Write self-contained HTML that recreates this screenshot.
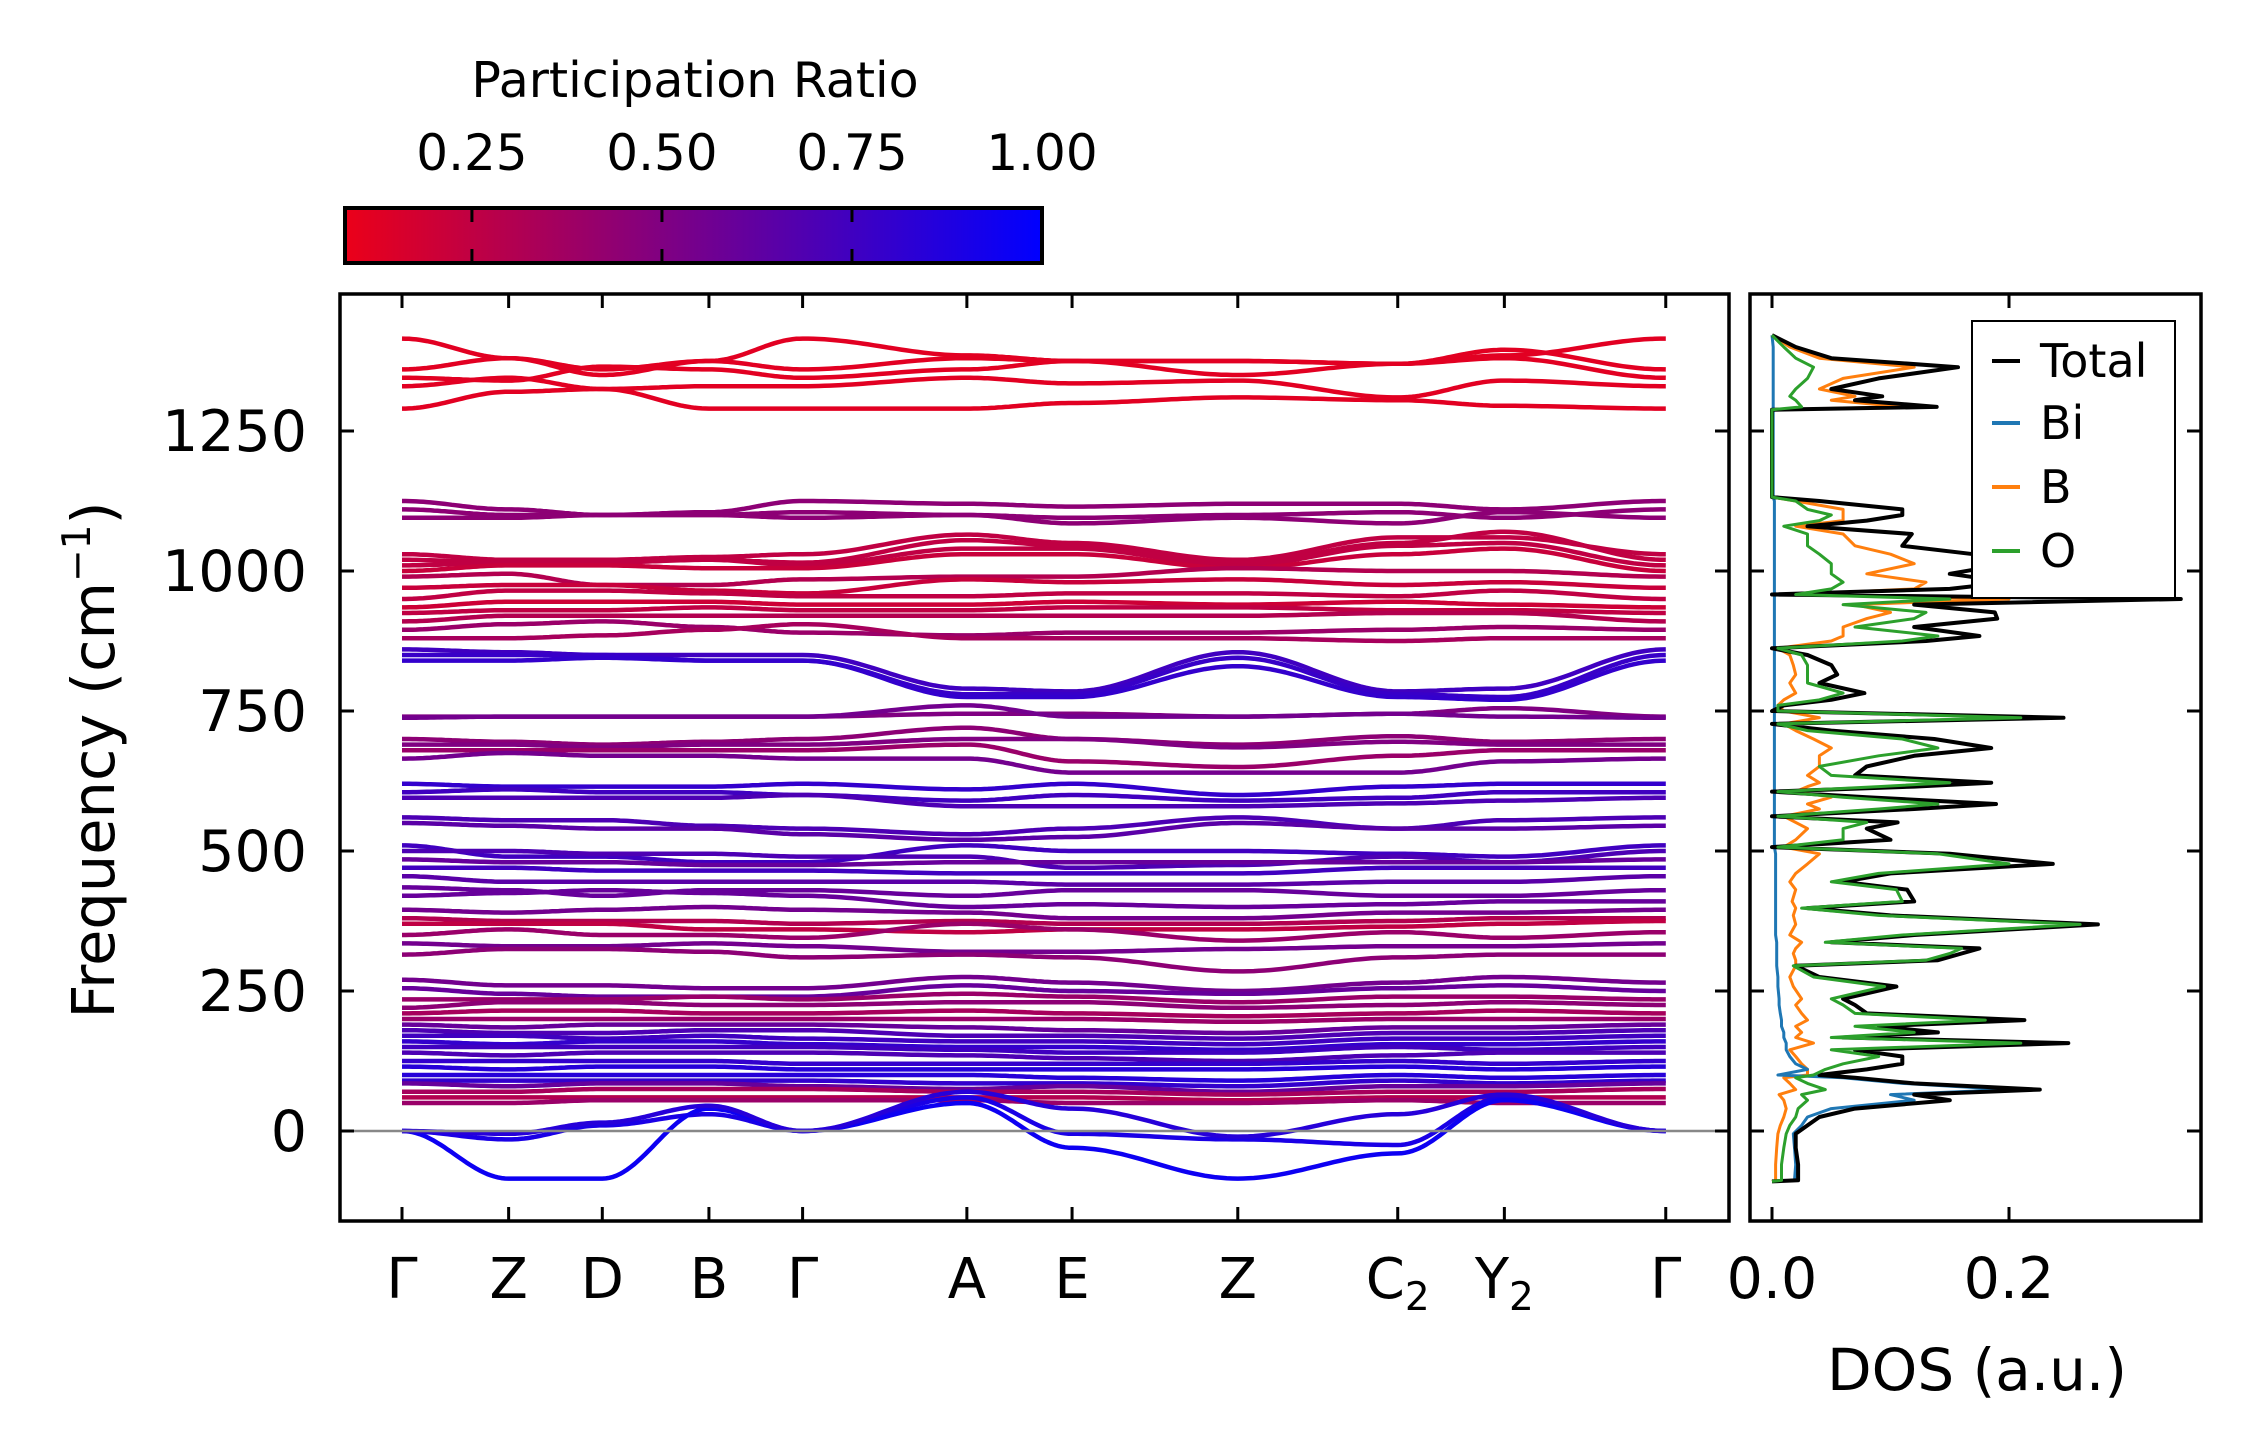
<!DOCTYPE html>
<html><head><meta charset="utf-8"><style>
html,body{margin:0;padding:0;background:#fff;}
svg{display:block;font-family:"DejaVu Sans","Liberation Sans",sans-serif;}
</style></head><body>
<svg id="fig" width="2259" height="1455" viewBox="0 0 2259 1455" xmlns="http://www.w3.org/2000/svg">
<defs>
<linearGradient id="cbgrad" x1="0" x2="1" y1="0" y2="0">
<stop offset="0" stop-color="rgb(235,0,25)"/><stop offset="1" stop-color="rgb(0,0,255)"/>
</linearGradient>
<clipPath id="mainclip"><rect x="340" y="294" width="1389" height="927"/></clipPath>
<clipPath id="dosclip"><rect x="1750" y="294" width="451" height="927"/></clipPath>
</defs>
<g id="colorbar">
<text x="695" y="97" font-size="49" text-anchor="middle">Participation Ratio</text>
<rect x="345" y="208" width="697" height="55" fill="url(#cbgrad)" stroke="#000" stroke-width="4"/>
<g id="cbticks"></g>
</g>
<g id="bands" clip-path="url(#mainclip)"></g>
<line x1="340" x2="1729" y1="1131" y2="1131" stroke="#888" stroke-width="2.5"/>
<rect x="340" y="294" width="1389" height="927" fill="none" stroke="#000" stroke-width="3.5"/>
<g id="mainaxes"></g>
<g id="dos" clip-path="url(#dosclip)"></g>
<rect x="1750" y="294" width="451" height="927" fill="none" stroke="#000" stroke-width="3.5"/>
<g id="dosaxes"></g>
<text transform="translate(114,760) rotate(-90)" font-size="59" text-anchor="middle">Frequency (cm<tspan font-size="39" dy="-24">−1</tspan><tspan dy="24">)</tspan></text>
<text x="1977" y="1390" font-size="58" text-anchor="middle">DOS (a.u.)</text>
<g id="legend">
<rect x="1972" y="321" width="203" height="277" fill="#fff" stroke="#000" stroke-width="2"/>
</g>
</svg>
<script>
const NS="http://www.w3.org/2000/svg";
const kLabels=["Γ","Z","D","B","Γ","A","E","Z","C","Y","Γ"];
const kSubs=["","","","","","","","","2","2",""];
const kDist=[0,0.74,1.39,2.13,2.78,3.92,4.65,5.80,6.91,7.65,8.77];
const yTicks=[0,250,500,750,1000,1250];
const cbTicks=[0.25,0.5,0.75,1.0];
const cbTickLabels=["0.25","0.50","0.75","1.00"];
const dosTicks=[0,0.2];
const dosTickLabels=["0.0","0.2"];
const bandFreqs=[
[1415,1380,1360,1375,1415,1385,1375,1375,1370,1385,1415],
[1360,1380,1350,1375,1360,1380,1375,1350,1370,1395,1360],
[1345,1340,1365,1360,1345,1360,1375,1375,1370,1380,1345],
[1330,1345,1325,1330,1330,1345,1335,1340,1310,1340,1330],
[1290,1320,1325,1290,1290,1290,1300,1310,1305,1295,1290],
[1125,1110,1100,1105,1125,1120,1115,1120,1120,1110,1125],
[1110,1100,1100,1100,1105,1100,1095,1100,1105,1095,1110],
[1095,1095,1100,1100,1095,1100,1085,1095,1085,1105,1095],
[1030,1020,1020,1025,1030,1065,1050,1020,1060,1060,1030],
[1020,1015,1015,1020,1015,1055,1045,1015,1050,1070,1020],
[1010,1015,1020,1020,1010,1040,1040,1010,1045,1050,1010],
[1000,1010,1010,1005,1005,1030,1030,1005,1030,1040,1000],
[990,995,975,975,985,990,990,1005,1000,1000,990],
[970,975,975,965,960,985,980,985,975,980,970],
[950,965,965,960,955,955,960,960,955,965,950],
[935,945,945,945,940,940,945,940,945,940,935],
[925,930,930,935,930,930,935,935,930,930,925],
[910,920,920,920,920,920,920,920,925,925,910],
[895,905,910,900,890,885,890,890,895,900,895],
[880,880,885,895,905,880,880,880,875,880,880],
[860,855,850,850,850,790,785,855,785,790,860],
[850,850,850,840,840,780,780,845,780,775,850],
[840,840,845,840,840,775,775,830,775,770,840],
[740,740,740,740,740,745,745,740,745,755,740],
[738,740,740,740,740,760,740,740,745,740,738],
[700,695,690,695,700,720,700,690,705,695,700],
[690,690,685,690,690,700,700,685,695,690,690],
[680,680,680,680,680,690,660,650,670,680,680],
[665,675,670,670,665,665,640,640,640,660,665],
[620,615,615,615,620,610,620,600,615,620,620],
[605,610,605,605,600,590,600,590,595,605,605],
[595,595,595,595,600,580,580,580,585,590,595],
[560,555,555,545,540,530,540,560,540,555,560],
[550,545,540,540,530,520,525,550,540,540,545],
[510,490,490,480,480,510,500,500,495,490,510],
[500,500,495,495,490,490,470,475,490,480,500],
[485,480,480,475,475,480,480,480,480,480,485],
[470,470,465,465,465,460,460,460,470,470,470],
[455,445,445,445,445,445,440,440,445,445,455],
[435,430,420,430,430,420,430,430,420,420,430],
[420,425,430,425,420,400,405,400,405,410,410],
[395,390,395,400,395,390,380,380,390,390,395],
[380,375,375,375,370,375,370,370,375,380,380],
[370,370,370,360,360,355,360,360,365,370,375],
[350,360,350,350,345,370,360,340,355,345,355],
[335,330,330,335,330,320,320,325,330,330,335],
[315,325,325,320,310,315,310,285,310,315,315],
[270,260,260,255,255,275,265,250,265,275,265],
[255,245,240,240,240,260,250,245,255,260,250],
[235,235,235,240,235,245,240,230,240,240,235],
[220,230,230,225,225,230,230,220,225,230,225],
[210,215,215,210,210,215,210,205,210,215,210],
[200,200,200,200,200,200,200,195,200,200,200],
[190,185,190,190,190,185,180,175,185,185,190],
[180,175,175,180,180,170,170,165,175,175,180],
[170,170,165,170,165,160,160,155,165,165,170],
[160,155,160,160,155,150,150,145,155,155,160],
[150,150,150,150,150,145,140,140,150,145,150],
[140,135,140,140,140,135,130,125,135,140,140],
[125,125,125,125,120,120,120,120,125,120,125],
[115,110,115,115,110,110,110,110,115,110,115],
[100,100,100,100,100,100,95,90,100,95,100],
[90,90,90,90,90,85,85,80,90,85,90],
[85,80,85,85,80,75,80,70,80,80,85],
[70,70,75,75,75,70,70,65,70,70,75],
[60,60,60,60,60,60,60,55,60,60,60],
[50,50,55,55,55,55,50,50,55,50,50],
[0,-15,10,30,0,60,-5,-15,-25,60,0],
[0,-85,-85,40,0,50,-30,-85,-40,55,0],
[0,-5,15,45,0,70,40,-10,30,65,0]
];
const bandPR=[0.12,0.12,0.12,0.12,0.12,0.45,0.45,0.45,0.25,0.25,0.25,0.22,0.3,0.22,0.25,0.2,0.25,0.3,0.4,0.35,
0.75,0.78,0.8,0.5,0.55,0.45,0.5,0.4,0.55,0.8,0.75,0.7,0.7,0.65,0.75,0.7,0.6,0.75,0.65,0.6,0.6,0.55,0.3,0.25,0.4,0.55,0.45,
0.55,0.6,0.4,0.45,0.35,0.4,0.6,0.7,0.75,0.8,0.75,0.7,0.8,0.85,0.85,0.8,0.6,0.35,0.3,0.4,0.9,0.95,0.85];
const dosFreq=[-90,-88,-60,-30,-5,10,25,40,55,65,74,85,95,100,110,120,133,145,157,167,176,187,198,210,225,236,258,275,295,305,317,326,337,350,369,385,398,410,431,445,460,477,495,507,520,540,551,562,575,584,596,606,615,622,635,651,670,684,700,715,727,738,750,760,770,782,800,815,832,850,862,875,884,900,915,926,940,950,958,968,980,995,1013,1030,1045,1066,1080,1090,1100,1110,1125,1132,1288,1293,1305,1312,1325,1344,1364,1380,1400,1421];
const dosTotal=[0,0.022,0.022,0.02,0.02,0.03,0.04,0.07,0.15,0.12,0.226,0.12,0.07,0.04,0.08,0.11,0.11,0.07,0.25,0.06,0.14,0.09,0.213,0.08,0.07,0.06,0.105,0.04,0.02,0.14,0.16,0.175,0.05,0.12,0.275,0.1,0.03,0.12,0.114,0.06,0.1,0.237,0.15,0.0,0.1,0.08,0.106,0.0,0.12,0.189,0.08,0.0,0.12,0.185,0.07,0.08,0.12,0.185,0.137,0.05,0.0,0.246,0.0,0.01,0.05,0.078,0.04,0.055,0.05,0.03,0.0,0.13,0.175,0.12,0.19,0.188,0.12,0.345,0.0,0.15,0.2,0.15,0.2,0.17,0.11,0.118,0.03,0.08,0.11,0.11,0.04,0,0,0.139,0.07,0.093,0.05,0.09,0.157,0.05,0.02,0];
const dosO=[0,0.008,0.008,0.01,0.012,0.015,0.02,0.022,0.03,0.025,0.045,0.03,0.02,0.035,0.045,0.06,0.09,0.05,0.21,0.05,0.12,0.07,0.18,0.07,0.06,0.05,0.095,0.035,0.018,0.13,0.15,0.16,0.045,0.11,0.26,0.09,0.025,0.11,0.105,0.05,0.09,0.2,0.14,0.005,0.06,0.06,0.08,0.005,0.09,0.14,0.06,0.005,0.09,0.15,0.05,0.04,0.09,0.14,0.11,0.03,0.005,0.21,0.005,0.005,0.04,0.06,0.03,0.03,0.03,0.025,0.005,0.11,0.14,0.07,0.12,0.13,0.06,0.15,0.02,0.05,0.06,0.05,0.05,0.04,0.03,0.03,0.01,0.04,0.05,0.03,0.02,0,0,0.025,0.02,0.015,0.02,0.03,0.035,0.02,0.01,0];
const dosB=[0,0.003,0.003,0.004,0.005,0.007,0.01,0.012,0.01,0.006,0.02,0.015,0.01,0.03,0.03,0.025,0.02,0.015,0.035,0.02,0.025,0.02,0.03,0.025,0.02,0.025,0.018,0.015,0.02,0.02,0.018,0.02,0.025,0.015,0.02,0.018,0.02,0.017,0.02,0.015,0.02,0.03,0.04,0.01,0.02,0.03,0.02,0.01,0.04,0.03,0.05,0.02,0.03,0.04,0.03,0.04,0.04,0.05,0.035,0.02,0.01,0.04,0.01,0.005,0.01,0.02,0.015,0.02,0.018,0.015,0.005,0.05,0.06,0.06,0.08,0.1,0.07,0.2,0.02,0.12,0.13,0.08,0.12,0.1,0.07,0.06,0.02,0.06,0.06,0.06,0.02,0,0,0.11,0.05,0.07,0.04,0.06,0.12,0.04,0.015,0];
const dosBi=[0,0.019,0.02,0.019,0.018,0.025,0.03,0.05,0.12,0.1,0.2,0.11,0.06,0.005,0.03,0.02,0.015,0.012,0.012,0.01,0.01,0.008,0.008,0.007,0.006,0.006,0.005,0.005,0.004,0.004,0.004,0.004,0.004,0.003,0.003,0.003,0.003,0.003,0.003,0.003,0.003,0.003,0.003,0.002,0.002,0.002,0.002,0.002,0.002,0.002,0.002,0.002,0.002,0.002,0.002,0.002,0.002,0.002,0.002,0.002,0.002,0.002,0.002,0.002,0.002,0.002,0.002,0.002,0.002,0.002,0.002,0.002,0.002,0.002,0.002,0.002,0.002,0.002,0.002,0.002,0.002,0.002,0.002,0.002,0.002,0.002,0.002,0.002,0.002,0.002,0.002,0.001,0.001,0.001,0.001,0.001,0.001,0.001,0.001,0.001,0.001,0];
const legendNames=["Total","Bi","B","O"];

const xK=d=>402+d*144.1;
const yF=f=>1131-f*0.56;
const xD=v=>1772+v*1185;
const xCB=p=>345+(p-0.083)*(697/0.917);
function prColor(p){const t=Math.max(0,Math.min(1,(p-0.083)/0.917));return `rgb(${Math.round(235*(1-t))},0,${Math.round(25+230*t)})`;}
function mk(tag,attrs,parent){const e=document.createElementNS(NS,tag);for(const k in attrs)e.setAttribute(k,attrs[k]);parent.appendChild(e);return e;}

const cbt=document.getElementById('cbticks');
cbTicks.forEach((p,i)=>{
 const x=xCB(p);
 if(p<1){
  const a=mk('line',{x1:x,x2:x,y1:208,y2:222,stroke:'#000','stroke-width':3},cbt);
  
  
  const b=mk('line',{x1:x,x2:x,y1:249,y2:263,stroke:'#000','stroke-width':3},cbt);
  
  
 }
 const t=mk('text',{x:x,y:170,'font-size':50,'text-anchor':'middle'},cbt);
 t.textContent=cbTickLabels[i];
 
 
});

const bg=document.getElementById('bands');
bandFreqs.forEach((fr,bi)=>{
 let d='';
 for(let s=0;s<kDist.length-1;s++){
  const N=30;
  for(let j=(s===0?0:1);j<=N;j++){
   const u=j/N, w=(1-Math.cos(Math.PI*u))/2;
   const kx=kDist[s]+(kDist[s+1]-kDist[s])*u;
   const f=fr[s]+(fr[s+1]-fr[s])*w;
   d+=(d?'L':'M')+xK(kx).toFixed(1)+','+yF(f).toFixed(1);
  }
 }
 const p=mk('path',{d:d,fill:'none',stroke:prColor(bandPR[bi]),'stroke-width':4.5,'stroke-linejoin':'round'},bg);
 
 
});

const ma=document.getElementById('mainaxes');
yTicks.forEach(f=>{
 const y=yF(f);
 [[340,354],[1715,1729]].forEach(([a,b])=>{
  const l=mk('line',{x1:a,x2:b,y1:y,y2:y,stroke:'#000','stroke-width':3},ma);
  
  
 });
 const t=mk('text',{x:307,y:y+20,'font-size':57,'text-anchor':'end'},ma);
 t.textContent=String(f);
 
 
});
kDist.forEach((d,i)=>{
 const x=xK(d);
 [[294,308],[1207,1221]].forEach(([a,b])=>{
  const l=mk('line',{x1:x,x2:x,y1:a,y2:b,stroke:'#000','stroke-width':3},ma);
  
  
 });
 const t=mk('text',{x:x,y:1298,'font-size':56,'text-anchor':'middle'},ma);
 t.textContent=kLabels[i];
 if(kSubs[i]){const s=mk('tspan',{'font-size':39,dy:12},t);s.textContent=kSubs[i];}
 
 
});

const dg=document.getElementById('dos');
const series=[[dosB,'#ff7f0e'],[dosBi,'#1f77b4'],[dosTotal,'#000'],[dosO,'#2ca02c']];
const seriesNames=['dos-b','dos-bi','dos-total','dos-o'];
series.forEach(([vals,col],si)=>{
 let d='';
 vals.forEach((v,i)=>{d+=(i?'L':'M')+xD(v).toFixed(1)+','+yF(dosFreq[i]).toFixed(1);});
 const p=mk('path',{d:d,fill:'none',stroke:col,'stroke-width':si===2?4:3,'stroke-linejoin':'round'},dg);
 
 
});
const da=document.getElementById('dosaxes');
yTicks.forEach(f=>{
 const y=yF(f);
 [[1750,1764],[2187,2201]].forEach(([a,b])=>{
  const l=mk('line',{x1:a,x2:b,y1:y,y2:y,stroke:'#000','stroke-width':3},da);
  
  
 });
});
dosTicks.forEach((v,i)=>{
 const x=xD(v);
 [[294,308],[1207,1221]].forEach(([a,b])=>{
  const l=mk('line',{x1:x,x2:x,y1:a,y2:b,stroke:'#000','stroke-width':3},da);
  
  
 });
 const t=mk('text',{x:x,y:1298,'font-size':57,'text-anchor':'middle'},da);
 t.textContent=dosTickLabels[i];
 
 
});

const lg=document.getElementById('legend');
const legCols=['#000','#1f77b4','#ff7f0e','#2ca02c'];
const legY=[361,423,487,551];
legendNames.forEach((n,i)=>{
 const l=mk('line',{x1:1992,x2:2020,y1:legY[i],y2:legY[i],stroke:legCols[i],'stroke-width':4},lg);
 
 
 const t=mk('text',{x:2040,y:legY[i]+16,'font-size':46},lg);
 t.textContent=n;
 
 
});
</script>
</body></html>
